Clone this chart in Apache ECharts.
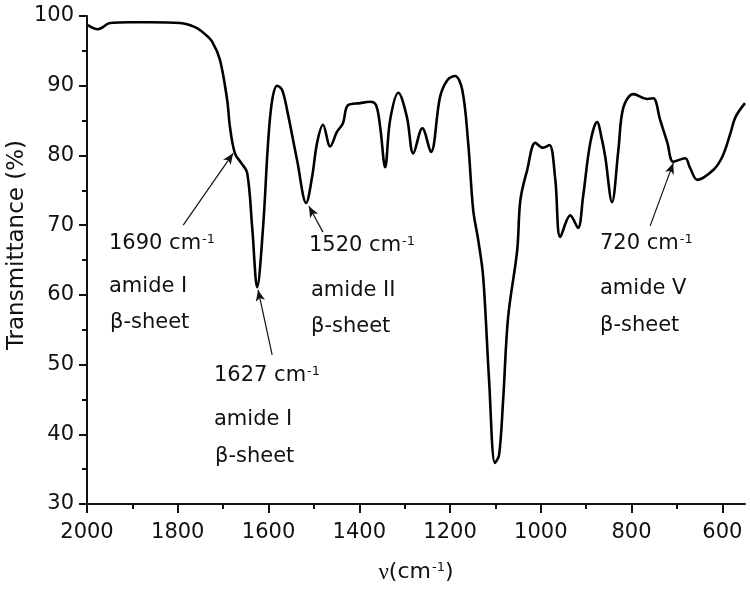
<!DOCTYPE html>
<html>
<head>
<meta charset="utf-8">
<script src="https://cdn.jsdelivr.net/npm/echarts@6/dist/echarts.min.js"></script>
<style>
  html, body { margin: 0; padding: 0; background: #fff; }
  #chart { width: 750px; height: 596px; }
</style>
</head>
<body>
<div id="chart"></div>
<script>
// spectrum
const wavenumber = [1998, 1976, 1949, 1905, 1861, 1795, 1762, 1740, 1724, 1707, 1691, 1685, 1674, 1660, 1647,
  1636, 1625, 1612, 1601, 1592, 1581, 1570, 1559, 1537, 1517, 1504, 1493, 1480, 1464, 1449, 1436, 1425,
  1398, 1376, 1363, 1354, 1343, 1332, 1314, 1295, 1281, 1261, 1242, 1222, 1206, 1189, 1173, 1160, 1149,
  1138, 1127, 1114, 1101, 1092, 1083, 1072, 1052, 1045, 1030, 1012, 995, 981, 968, 957, 935, 918, 907,
  891, 876, 865, 858, 843, 829, 818, 796, 765, 752, 737, 721, 708, 682, 671, 655, 620, 600, 582, 571, 550];
const transmittance = [98.7, 98.1, 99.0, 99.1, 99.1, 99.0, 98.4, 97.4, 96.3, 93.7, 87.9, 84.1, 80.3, 78.9, 77.5,
  69.7, 61.1, 69.7, 81.8, 87.9, 90.0, 89.4, 86.5, 79.3, 73.2, 76.9, 81.8, 84.4, 81.3, 83.4, 84.6, 87.2,
  87.5, 87.7, 87.2, 84.1, 78.3, 85.1, 89.0, 85.5, 80.3, 83.9, 80.5, 88.4, 90.8, 91.4, 89.4, 81.8, 72.2,
  67.9, 62.6, 47.8, 35.9, 37.0, 44.9, 56.8, 66.4, 73.6, 77.9, 81.8, 81.1, 81.5, 76.5, 68.3, 71.4, 69.6, 74.0,
  81.8, 84.8, 82.2, 79.8, 73.3, 80.8, 86.9, 88.8, 88.1, 88.2, 85.1, 81.8, 79.1, 79.6, 78.2, 76.5, 77.9, 79.8, 83.2, 85.5, 87.5];

const xTicks = [2000, 1800, 1600, 1400, 1200, 1000, 800, 600];
const xMinorTicks = [1900, 1700, 1500, 1300, 1100, 900, 700];

// arrows: [from wavenumber, from T, to wavenumber, to T]
const arrows = [
  [1788, 70.0, 1678, 80.3],
  [1592, 51.4, 1623, 60.7],
  [1480, 69.0, 1511, 72.7],
  [759, 69.9, 708, 78.9]
];

// annotation lines: [text, left, middle]
const notes = [
  ['1690 cm{s|-1}', 109, 244], ['amide I', 109, 287], ['β-sheet', 110, 323],
  ['1627 cm{s|-1}', 214, 376], ['amide I', 214, 420], ['β-sheet', 215, 457],
  ['1520 cm{s|-1}', 309, 246], ['amide II', 311, 291], ['β-sheet', 311, 327],
  ['720 cm{s|-1}', 600, 244], ['amide V', 600, 289], ['β-sheet', 600, 326]
];

const font = 'DejaVu Sans';
// superscript: small box pinned to the top of a taller line
const supStyle = { fontSize: 13, lineHeight: 6, fontFamily: font, verticalAlign: 'top', padding: [0, 0, 20, 1] };

const chart = echarts.init(document.getElementById('chart'));

const noteTexts = notes.map(n => ({
  type: 'text',
  x: n[1],
  y: n[2],
  silent: true,
  style: {
    text: n[0],
    fontSize: 21,
    fontFamily: font,
    fill: '#111',
    verticalAlign: 'middle',
    rich: { s: Object.assign({ fill: '#111' }, supStyle) }
  }
}));

// y axis title, drawn by hand so it can sit a bit above the middle like the original
noteTexts.push({
  type: 'text',
  x: 17,
  y: 245,
  rotation: Math.PI / 2,
  silent: true,
  style: {
    text: 'Transmittance (%)',
    fontSize: 23,
    fontFamily: font,
    fill: '#111',
    align: 'center',
    verticalAlign: 'middle'
  }
});

chart.setOption({
  animation: false,
  backgroundColor: '#fff',
  grid: { left: 87, right: 5, top: 16, bottom: 92, outerBoundsMode: 'none', containLabel: false },
  xAxis: [{
    type: 'value',
    inverse: true,
    min: 550,
    max: 2000,
    position: 'bottom',
    name: '{n|ν}(cm{s|-1})',
    nameLocation: 'middle',
    nameGap: 57,
    nameTextStyle: {
      fontSize: 22, fontFamily: font, color: '#111',
      rich: {
        n: { fontSize: 23, fontFamily: 'Liberation Serif', color: '#111' },
        s: Object.assign({ color: '#111' }, supStyle)
      }
    },
    splitLine: { show: false },
    axisLine: { lineStyle: { color: '#111', width: 2 } },
    axisTick: { customValues: xTicks, length: 9, lineStyle: { color: '#111', width: 2 } },
    axisLabel: {
      customValues: xTicks, margin: 18, fontSize: 21, fontFamily: font, color: '#111',
      formatter: v => String(v)
    }
  }, {
    type: 'value',
    inverse: true,
    min: 550,
    max: 2000,
    position: 'bottom',
    offset: 0,
    splitLine: { show: false },
    axisLine: { show: false },
    axisTick: { customValues: xMinorTicks, length: 5, lineStyle: { color: '#111', width: 2 } },
    axisLabel: { show: false }
  }],
  yAxis: {
    type: 'value',
    min: 30,
    max: 100,
    interval: 10,
    splitLine: { show: false },
    axisLine: { show: true, lineStyle: { color: '#111', width: 2 } },
    axisTick: { show: true, length: 8, lineStyle: { color: '#111', width: 2 } },
    minorTick: { show: true, splitNumber: 2, length: 5, lineStyle: { color: '#111', width: 2 } },
    minorSplitLine: { show: false },
    axisLabel: { margin: 13, fontSize: 21, fontFamily: font, color: '#111' }
  },
  series: [{
    type: 'line',
    data: wavenumber.map((w, i) => [w, transmittance[i]]),
    showSymbol: false,
    smooth: 0.35,
    lineStyle: { color: '#000', width: 2.6 },
    markLine: {
      silent: true,
      symbol: ['none', 'arrow'],
      symbolSize: [7, 11],
      label: { show: false },
      lineStyle: { color: '#111', width: 1.2, type: 'solid' },
      data: arrows.map(a => [{ coord: [a[0], a[1]] }, { coord: [a[2], a[3]] }])
    }
  }],
  graphic: noteTexts
});
</script>
</body>
</html>
